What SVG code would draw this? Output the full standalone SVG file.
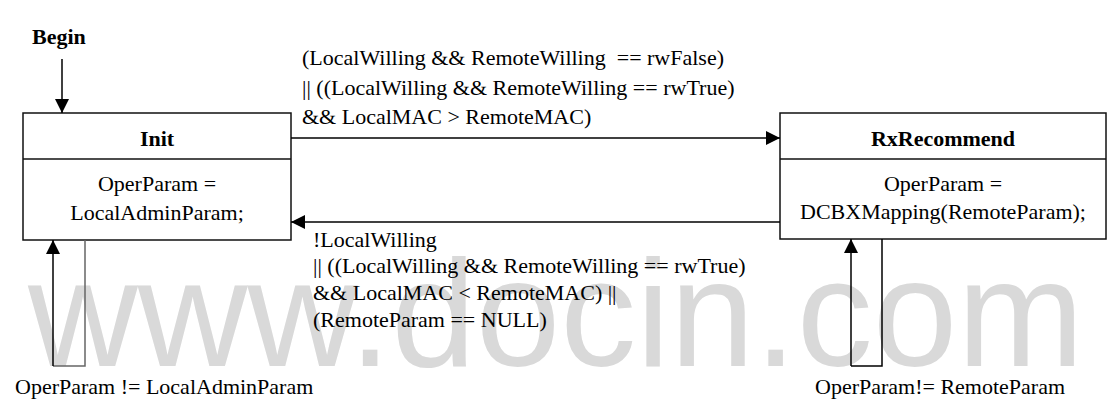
<svg xmlns="http://www.w3.org/2000/svg" width="1113" height="410" viewBox="0 0 1113 410">
<style>
.t{font-family:'Liberation Serif','DejaVu Serif',serif;font-size:22px;fill:#000}
.b{font-weight:bold}
.c{text-anchor:middle}
.pre{white-space:pre}
.box{fill:none;stroke:#111;stroke-width:1.5}
.ln{fill:none;stroke:#000;stroke-width:1.5}
.gl{fill:none;stroke:#666;stroke-width:1.5}
.wm{font-family:'Liberation Sans',Arial,sans-serif;font-size:152px;fill:#d9d9d9}
</style>
<defs>
<marker id="ah" viewBox="0 0 14 14" refX="14" refY="7" markerWidth="14" markerHeight="14" markerUnits="userSpaceOnUse" orient="auto">
<path d="M0,0 L14,7 L0,14 Z" fill="#000"/>
</marker>
</defs>
<rect width="1113" height="410" fill="#fff"/>
<text class="wm" x="28" y="366">www.docin.com</text>
<g id="begin">
<text class="t b" x="32" y="44">Begin</text>
</g>
<g id="init">
<rect class="box" x="23" y="113" width="268" height="127"/>
<line class="box" x1="23" y1="159" x2="291" y2="159"/>
<text class="t b c" x="157" y="146">Init</text>
<text class="t c" x="157" y="191">OperParam =</text>
<text class="t c" x="157" y="220">LocalAdminParam;</text>
</g>
<g id="rxrecommend">
<rect class="box" x="780" y="113" width="326" height="126"/>
<line class="box" x1="780" y1="159" x2="1106" y2="159"/>
<text class="t b c" x="943" y="146">RxRecommend</text>
<text class="t c" x="943" y="191">OperParam =</text>
<text class="t c" x="943" y="219">DCBXMapping(RemoteParam);</text>
</g>
<g id="connectors">
<line class="ln" x1="62" y1="59" x2="62" y2="113" marker-end="url(#ah)"/>
<line class="ln" x1="291" y1="138" x2="780" y2="138" marker-end="url(#ah)"/>
<line class="ln" x1="780" y1="222" x2="291" y2="222" marker-end="url(#ah)"/>
<polyline class="gl" points="85,240 85,366 53,366"/>
<line class="ln" x1="53" y1="366" x2="53" y2="240" marker-end="url(#ah)"/>
<polyline class="ln" points="882,239 882,366 851,366"/>
<line class="ln" x1="851" y1="366" x2="851" y2="239" marker-end="url(#ah)"/>
</g>
<g id="labels">
<text class="t pre" x="302" y="65" xml:space="preserve">(LocalWilling &amp;&amp; RemoteWilling  == rwFalse)</text>
<text class="t" x="302" y="95">|| ((LocalWilling &amp;&amp; RemoteWilling == rwTrue)</text>
<text class="t" x="302" y="124">&amp;&amp; LocalMAC &gt; RemoteMAC)</text>
<text class="t" x="313" y="247">!LocalWilling</text>
<text class="t" x="313" y="273">|| ((LocalWilling &amp;&amp; RemoteWilling == rwTrue)</text>
<text class="t" x="313" y="300">&amp;&amp; LocalMAC &lt; RemoteMAC) ||</text>
<text class="t" x="313" y="327">(RemoteParam == NULL)</text>
<text class="t" x="15" y="394">OperParam != LocalAdminParam</text>
<text class="t" x="815" y="394">OperParam!= RemoteParam</text>
</g>
</svg>
